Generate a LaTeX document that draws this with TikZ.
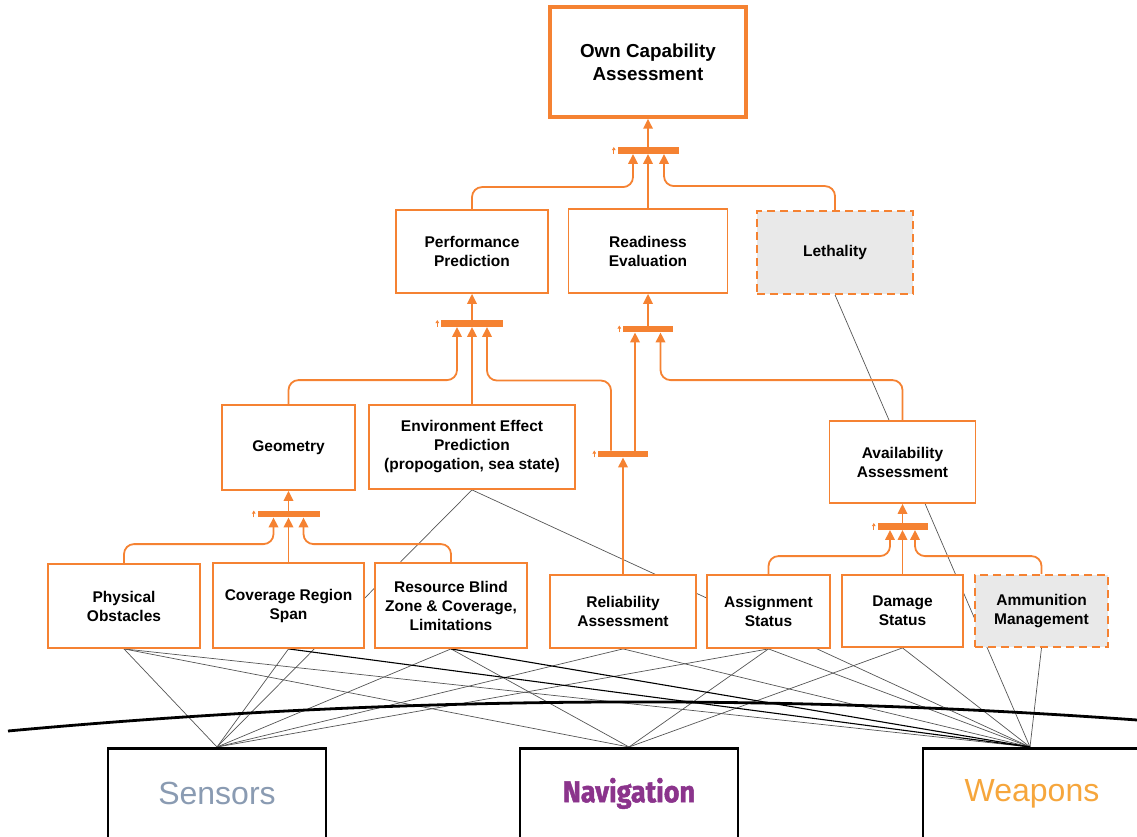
\documentclass[tikz,border=0pt]{standalone}
\usepackage{fontspec}
\setmainfont{Liberation Sans}
\newfontfamily\navfont[FakeStretch=0.9, BoldFeatures={FakeBold=1.5}]{Fira Sans}
\usetikzlibrary{arrows.meta}
\definecolor{oc}{RGB}{245,130,50}
\definecolor{boxgray}{RGB}{233,233,233}
\definecolor{linkgray}{RGB}{85,85,85}
\definecolor{sensc}{RGB}{138,155,178}
\definecolor{navc}{RGB}{139,52,140}
\definecolor{weapc}{RGB}{246,166,60}
\pgfdeclarelayer{bg}
\pgfsetlayers{bg,main}
\begin{document}
\begin{tikzpicture}[x=1pt,y=-1pt,
  box/.style={draw=oc, line width=1.8pt, fill=white, align=center, inner sep=2pt,
    font=\bfseries\fontsize{15.5}{19}\selectfont},
  dbox/.style={box, dash pattern=on 8pt off 5pt, fill=boxgray},
  topbox/.style={box, line width=3.5pt, font=\bfseries\fontsize{18.8}{23}\selectfont},
  bar/.style={fill=oc, draw=none, minimum height=6.5pt, inner sep=0pt},
  conn/.style={draw=oc, line width=1.8pt, rounded corners=10pt},
  arr/.style={conn, -{Triangle[width=9.5pt,length=10pt]}},
  tick/.style={draw=oc, line width=0.7pt, -{Triangle[width=3.5pt,length=3pt]}},
  link/.style={draw=linkgray, line width=0.7pt},
  heavy/.style={draw=black, line width=1.1pt},
  sysbox/.style={draw=black, line width=2.8pt, fill=white, anchor=north, inner sep=0pt},
  systext/.style={font=\fontsize{32}{38}\selectfont},
]
\useasboundingbox (0,0) rectangle (1137,837);
\clip (0,0) rectangle (1137,837);

% top level
\node[topbox, minimum width=196, minimum height=110] (top) at (648,62) {Own Capability\\Assessment};

% second level
\node[box, minimum width=152, minimum height=83] (perf) at (472,251.5) {Performance\\Prediction};
\node[box, minimum width=159, minimum height=84] (ready) at (648,251) {Readiness\\Evaluation};
\node[dbox, minimum width=156, minimum height=83] (leth) at (835,252.5) {Lethality};

% third level
\node[box, minimum width=133, minimum height=85] (geom) at (288.5,447.5) {Geometry};
\node[box, minimum width=206, minimum height=84] (env) at (472,447) {Environment Effect\\Prediction\\(propogation, sea state)};
\node[box, minimum width=146, minimum height=82] (avail) at (902.5,462) {Availability\\Assessment};

% leaf level
\node[box, minimum width=152, minimum height=84] (phys) at (124,606) {Physical\\Obstacles};
\node[box, minimum width=151, minimum height=85] (cov) at (288.5,605.5) {Coverage Region\\Span};
\node[box, minimum width=152, minimum height=85] (res) at (451,605.5) {Resource Blind\\Zone \& Coverage,\\Limitations};
\node[box, minimum width=146, minimum height=73] (rel) at (623,611.5) {Reliability\\Assessment};
\node[box, minimum width=123, minimum height=73] (asg) at (768.5,611.5) {Assignment\\Status};
\node[box, minimum width=121, minimum height=72] (dmg) at (902.5,611) {Damage\\Status};
\node[dbox, minimum width=133, minimum height=72] (ammo) at (1041.5,611) {Ammunition\\Management};

% systems
\node[sysbox, minimum width=218, minimum height=120,
  label={[systext, text=sensc, yshift=15pt]center:Sensors}] (sens) at (217,747) {};
\node[sysbox, minimum width=218, minimum height=120,
  label={[font=\navfont\bfseries\fontsize{30}{36}\selectfont, text=navc, yshift=15pt]center:Navigation}] (nav) at (629,747) {};
\node[sysbox, minimum width=260, minimum height=120,
  label={[systext, text=weapc, yshift=15pt, xshift=-21pt]center:Weapons}] (weap) at (1053,747) {};
\coordinate (weapin) at ([xshift=-23pt]weap.north);

% junction bars
\node[bar, minimum width=61] (b1) at (648,150.5) {};
\node[bar, minimum width=62] (b2) at (472,323.5) {};
\node[bar, minimum width=50] (b3) at (648,329) {};
\node[bar, minimum width=50] (b4) at (623,454) {};
\node[bar, minimum width=62] (b5) at (288.5,514) {};
\node[bar, minimum width=50] (b6) at (902.5,526.5) {};
\foreach \b in {b1,b2,b3,b4,b5,b6}
  \draw[tick] ([xshift=-3.5pt]\b.south west) -- ([xshift=-3.5pt]\b.north west);

% links to the systems, behind the boxes
\begin{pgfonlayer}{bg}
  \foreach \n in {phys,cov,env,res,rel,asg}
    \draw[link] (\n.south) -- (sens.north);
  \foreach \n in {phys,res,asg,dmg}
    \draw[link] (\n.south) -- (nav.north);
  \foreach \n in {phys,env,rel,asg,dmg,ammo,leth}
    \draw[link] (\n.south) -- (weapin);
  \draw[heavy] (cov.south) -- (weapin);
  \draw[heavy] (res.south) -- (weapin);
  % horizon
  \draw[line width=2.8pt] (8,731) .. controls (384,696.3) and (760,692.7) .. (1137,720);
\end{pgfonlayer}

% orange aggregation connectors
\draw[arr] (perf.north) -- ++(0,-22) -| ([xshift=-15pt]b1.south);
\draw[arr] (ready.north) -- (b1.south);
\draw[arr] (leth.north) -- ++(0,-24) -| ([xshift=16pt]b1.south);
\draw[arr] (b1.north) -- (top.south);

\draw[arr] (geom.north) -- ++(0,-24) -| ([xshift=-15pt]b2.south);
\draw[arr] (env.north) -- (b2.south);
\draw[arr] ([xshift=-12pt]b4.north) -- ++(0,-70) -| ([xshift=15pt]b2.south);
\draw[arr] (b2.north) -- (perf.south);

\draw[arr] ([xshift=12pt]b4.north) -- ([xshift=-13pt]b3.south);
\draw[arr] (avail.north) -- ++(0,-40) -| ([xshift=12.5pt]b3.south);
\draw[arr] (b3.north) -- (ready.south);

\draw[arr] (rel.north) -- (b4.south);

\draw[arr] (phys.north) -- ++(0,-19) -| ([xshift=-15pt]b5.south);
\draw[arr] (cov.north) -- (b5.south);
\draw[arr] (res.north) -- ++(0,-18) -| ([xshift=15pt]b5.south);
\draw[arr] (b5.north) -- (geom.south);

\draw[arr] (asg.north) -- ++(0,-18) -| ([xshift=-12.5pt]b6.south);
\draw[arr] (dmg.north) -- (b6.south);
\draw[arr] (ammo.north) -- ++(0,-18) -| ([xshift=12.5pt]b6.south);
\draw[arr] (b6.north) -- (avail.south);
\end{tikzpicture}
\end{document}
